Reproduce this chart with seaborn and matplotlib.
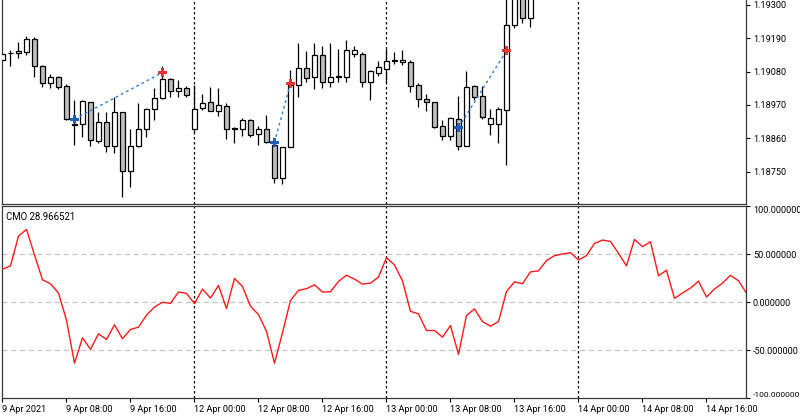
import matplotlib
matplotlib.use("Agg")
import matplotlib.pyplot as plt
import seaborn as sns
import numpy as np
import pandas as pd

sns.set_style("white")
plt.rcParams['font.family'] = ['Roboto', 'DejaVu Sans']

# ---- data (hourly EURUSD candles, visible part) ----
opens = [1.19118,1.19140,1.19141,1.19144,1.19188,1.19097,1.19044,1.19061,1.19032,1.18908,
         1.18907,1.18979,1.18852,1.18913,1.18835,1.18946,1.18753,1.18835,1.18890,1.18956,
         1.18992,1.19056,1.19016,1.19025,1.18890,1.18959,1.18979,1.18951,1.18967,1.18894,
         1.18890,1.18920,1.18873,1.18891,1.18838,1.18728,1.18832,1.19036,1.19091,1.19063,
         1.19135,1.19047,1.19065,1.19063,1.19138,1.19138,1.19045,1.19074,1.19088,1.19115,
         1.19111,1.19113,1.19036,1.18990,1.18979,1.18900,1.18867,1.18924,1.18835,1.19032,
         1.19000,1.18906,1.18906,1.18953,1.19234,1.19366,1.19256]
highs = [1.19141,1.19151,1.19179,1.19198,1.19193,1.19102,1.19072,1.19065,1.19039,1.18986,
         1.18986,1.18981,1.18946,1.18946,1.18997,1.18948,1.18890,1.18977,1.18959,1.19025,
         1.19098,1.19058,1.19052,1.19032,1.19036,1.19005,1.19028,1.19025,1.18977,1.18898,
         1.18928,1.18924,1.18900,1.18937,1.18846,1.18832,1.19085,1.19175,1.19148,1.19175,
         1.19166,1.19173,1.19155,1.19184,1.19165,1.19144,1.19085,1.19115,1.19154,1.19144,
         1.19151,1.19118,1.19041,1.19006,1.18981,1.18920,1.18931,1.18999,1.19082,1.19036,
         1.19033,1.18956,1.18962,1.19333,1.19383,1.19383,1.19383]
lows = [1.19115,1.19098,1.19125,1.19135,1.19063,1.19030,1.19025,1.19023,1.18920,1.18838,
        1.18865,1.18835,1.18845,1.18816,1.18810,1.18667,1.18698,1.18832,1.18865,1.18920,
        1.18990,1.18997,1.18997,1.18997,1.18882,1.18953,1.18950,1.18934,1.18856,1.18845,
        1.18868,1.18865,1.18838,1.18845,1.18713,1.18709,1.18831,1.18997,1.19047,1.19022,
        1.19027,1.19030,1.19047,1.19047,1.19127,1.19028,1.18986,1.19065,1.19047,1.19105,
        1.19102,1.19014,1.18964,1.18951,1.18893,1.18854,1.18854,1.18821,1.18834,1.18986,
        1.18922,1.18871,1.18843,1.18772,1.19223,1.19241,1.19228]
closes = [1.19138,1.19141,1.19148,1.19188,1.19099,1.19044,1.19061,1.19028,1.18922,1.18905,
          1.18983,1.18854,1.18913,1.18835,1.18946,1.18753,1.18835,1.18890,1.18957,1.18992,
          1.19056,1.19016,1.19025,1.19003,1.18957,1.18975,1.18951,1.18970,1.18890,1.18892,
          1.18920,1.18871,1.18890,1.18846,1.18728,1.18832,1.19036,1.19091,1.19058,1.19135,
          1.19047,1.19061,1.19062,1.19151,1.19151,1.19045,1.19082,1.19096,1.19115,1.19117,
          1.19118,1.19033,1.18989,1.18979,1.18898,1.18867,1.18926,1.18835,1.19028,1.18997,
          1.18929,1.18926,1.18957,1.19234,1.19356,1.19256,1.19356]

cmo = [34.2,37.6,68.7,75.6,49.0,23.1,19.0,9.3,-19.0,-63.8,
       -37.3,-49.3,-33.1,-39.0,-23.8,-38.3,-28.6,-26.2,-13.8,-5.2,
       -0.3,-1.4,10.4,9.0,-1.7,13.5,4.1,17.3,-6.9,24.5,
       16.2,-4.5,-13.1,-30.4,-63.8,-32.1,1.7,12.1,13.8,17.9,
       10.4,10.7,21.4,27.9,23.8,18.6,19.7,25.9,46.2,38.6,
       22.0,-9.7,-12.4,-29.7,-29.7,-36.6,-24.5,-54.5,-14.1,-7.2,
       -20.4,-25.2,-20.4,11.0,21.0,19.0,31.4,32.4,43.1,48.3,
       50.0,51.4,43.8,48.3,61.0,64.5,63.1,50.7,37.6,65.2,
       57.6,62.8,27.3,33.1,3.8,9.3,14.5,21.7,5.2,13.5,
       19.7,27.9,22.1,9.3]
cmo_label = "CMO 28.966521"

buy_idx = [9, 34, 57]
buy_price = [1.18923, 1.18846, 1.18895]
sell_idx = [20, 36, 63]
sell_price = [1.19077, 1.19041, 1.19149]

day_sep_idx = [24, 48, 72]
xtick_idx = [0, 8, 16, 24, 32, 40, 48, 56, 64, 72, 80, 88]
xtick_labels = ["9 Apr 2021", "9 Apr 08:00", "9 Apr 16:00", "12 Apr 00:00", "12 Apr 08:00",
                "12 Apr 16:00", "13 Apr 00:00", "13 Apr 08:00", "13 Apr 16:00",
                "14 Apr 00:00", "14 Apr 08:00", "14 Apr 16:00"]
price_ticks = [1.18750, 1.18860, 1.18970, 1.19080, 1.19190, 1.19300]
cmo_ticks = [100, 50, 0, -50, -100]

# ---- figure ----
W, H = 800, 418
fig = plt.figure(figsize=(8, 4.18), dpi=100)
fig.patch.set_facecolor('white')
ax1 = fig.add_axes([1.5 / W, 1 - 204 / H, 744.5 / W, 204 / H])
ax2 = fig.add_axes([1.5 / W, 1 - 398 / H, 744.5 / W, 192 / H])

xlim = (-0.125, 92.94)
spine_c = '#3a3a3a'
fs = 6.6

# candles
df = pd.DataFrame({'o': opens, 'h': highs, 'l': lows, 'c': closes})
df['i'] = np.arange(len(df))
ax1.vlines(df['i'], df['l'], df['h'], color='black', lw=0.9, zorder=2)
bull = df['c'] >= df['o']
bottoms = np.minimum(df['o'], df['c'])
heights = np.abs(df['c'] - df['o'])
ax1.bar(df['i'], heights, bottom=bottoms, width=0.62,
        color=np.where(bull, 'white', '#bdbdbd'), edgecolor='black', linewidth=0.9, zorder=3)

# trade connectors
for bi, bp, si, sp in zip(buy_idx, buy_price, sell_idx, sell_price):
    sns.lineplot(x=[bi, si], y=[bp, sp], ax=ax1, color='#2f7fd4', lw=1.0,
                 linestyle=(0, (2, 2.2)), zorder=4)
sns.scatterplot(x=buy_idx, y=buy_price, ax=ax1, marker='P', s=38, color='#1f5fb5',
                edgecolor='none', zorder=5)
sns.scatterplot(x=sell_idx, y=sell_price, ax=ax1, marker='P', s=38, color='#f03232',
                edgecolor='none', zorder=5)

ax1.set_xlim(*xlim)
ax1.set_ylim(1.186427, 1.193165)
ax1.yaxis.tick_right()
ax1.set_yticks(price_ticks)
ax1.set_yticklabels([f"{v:.5f}" for v in price_ticks])
ax1.set_xticks([])
ax1.tick_params(axis='y', direction='out', length=3, width=0.8, labelsize=fs,
                pad=2, colors='black', right=True, left=False)
ax1.spines['top'].set_visible(False)
for s in ['left', 'right', 'bottom']:
    ax1.spines[s].set_color(spine_c)
    ax1.spines[s].set_linewidth(0.9)

# CMO pane
for g in [50, 0, -50]:
    ax2.axhline(g, color='#c4c4c4', lw=0.9, linestyle=(0, (4, 3)), zorder=1)
sns.lineplot(x=np.arange(len(cmo)), y=cmo, ax=ax2, color='#ff1a1a', lw=1.0, zorder=3)
ax2.set_xlim(*xlim)
ax2.set_ylim(-100, 100)
ax2.yaxis.tick_right()
ax2.set_yticks(cmo_ticks)
ax2.set_yticklabels([f"{v:.6f}" for v in cmo_ticks])
ax2.tick_params(axis='y', direction='out', length=3, width=0.8, labelsize=fs,
                pad=2, colors='black', right=True, left=False)
for lab in ax2.get_yticklabels():
    if lab.get_text() == "100.000000":
        lab.set_verticalalignment('top')
    elif lab.get_text() == "-100.000000":
        lab.set_verticalalignment('bottom')
        lab.set_fontsize(6.0)
ax2.set_xticks(xtick_idx)
ax2.set_xticklabels(xtick_labels, ha='left')
ax2.tick_params(axis='x', direction='out', length=3, width=0.8, labelsize=fs,
                pad=2, colors='black', bottom=True)
for s in ['left', 'right', 'bottom', 'top']:
    ax2.spines[s].set_color(spine_c)
    ax2.spines[s].set_linewidth(0.9)
ax2.text(0.006, 0.945, cmo_label, transform=ax2.transAxes, fontsize=fs + 0.3,
         ha='left', va='center', color='black')

# day separators across both panes
for ax in (ax1, ax2):
    for d in day_sep_idx:
        ax.axvline(d, color='black', lw=0.9, linestyle=(0, (2, 2)), zorder=1)
    ax.set_xlabel('')
    ax.set_ylabel('')
    ax.grid(False)
    if ax.get_legend():
        ax.get_legend().remove()

fig.savefig("out.png", dpi=100, facecolor='white')
